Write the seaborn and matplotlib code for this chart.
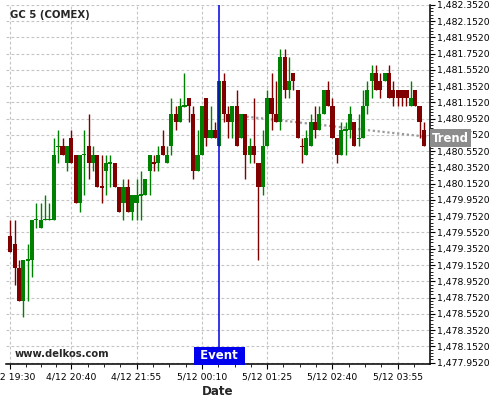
import numpy as np
import pandas as pd
import matplotlib
matplotlib.use("Agg")
import matplotlib.pyplot as plt
import seaborn as sns
from matplotlib.ticker import FixedLocator, FuncFormatter

# 5-minute candles, GC 5 (COMEX)
opens = [1479.51, 1479.41, 1479.11, 1478.71, 1479.20, 1479.21, 1479.70, 1479.61, 1479.70, 1479.70,
         1479.71, 1480.60, 1480.61, 1480.41, 1480.71, 1480.51, 1479.91, 1480.50, 1480.61, 1480.41,
         1480.51, 1480.12, 1480.31, 1480.40, 1480.41, 1480.11, 1479.91, 1480.11, 1479.81, 1479.91,
         1480.00, 1480.01, 1480.31, 1480.42, 1480.41, 1480.61, 1480.41, 1480.61, 1481.01, 1480.91,
         1481.10, 1481.21, 1481.01, 1480.31, 1480.51, 1481.21, 1480.71, 1480.81, 1480.61, 1481.41,
         1481.01, 1480.91, 1481.11, 1480.71, 1481.01, 1480.51, 1480.61, 1480.41, 1480.11, 1480.61,
         1481.21, 1481.01, 1480.91, 1481.71, 1481.31, 1481.51, 1481.31, 1480.62, 1480.51, 1480.61,
         1480.91, 1480.81, 1481.01, 1481.31, 1481.11, 1480.71, 1480.51, 1480.80, 1480.81, 1480.91,
         1480.70, 1480.71, 1481.11, 1481.41, 1481.51, 1481.41, 1481.41, 1481.51, 1481.31, 1481.31,
         1481.31, 1481.31, 1481.11, 1481.31, 1481.11, 1480.81]
highs = [1479.71, 1479.71, 1479.21, 1479.21, 1479.41, 1479.71, 1479.91, 1479.91, 1480.01, 1479.91,
         1480.71, 1480.81, 1480.71, 1480.61, 1480.81, 1480.51, 1480.51, 1480.81, 1481.01, 1480.61,
         1480.51, 1480.51, 1480.51, 1480.51, 1480.41, 1480.11, 1480.21, 1480.21, 1480.01, 1480.21,
         1480.31, 1480.21, 1480.51, 1480.51, 1480.61, 1480.81, 1480.61, 1481.21, 1481.11, 1481.21,
         1481.51, 1481.21, 1481.11, 1480.81, 1481.11, 1481.21, 1481.11, 1480.91, 1481.41, 1481.51,
         1481.11, 1481.11, 1481.31, 1481.01, 1481.01, 1480.71, 1481.21, 1480.41, 1480.81, 1481.31,
         1481.51, 1481.41, 1481.81, 1481.81, 1481.71, 1481.51, 1481.31, 1480.71, 1480.81, 1481.01,
         1481.11, 1481.11, 1481.31, 1481.41, 1481.21, 1480.71, 1480.91, 1480.91, 1481.11, 1480.91,
         1481.01, 1481.31, 1481.41, 1481.61, 1481.61, 1481.51, 1481.51, 1481.61, 1481.41, 1481.31,
         1481.31, 1481.31, 1481.41, 1481.31, 1481.11, 1480.91]
lows = [1479.31, 1478.91, 1478.71, 1478.51, 1478.71, 1479.01, 1479.61, 1479.61, 1479.70, 1479.70,
        1479.71, 1480.41, 1480.51, 1480.31, 1480.41, 1479.91, 1479.81, 1480.01, 1480.21, 1480.31,
        1480.11, 1479.91, 1480.01, 1480.11, 1480.11, 1479.81, 1479.71, 1479.81, 1479.71, 1479.71,
        1479.71, 1480.01, 1480.01, 1480.31, 1480.31, 1480.51, 1480.41, 1480.51, 1480.81, 1480.91,
        1481.10, 1480.91, 1480.21, 1480.31, 1480.51, 1480.61, 1480.71, 1480.71, 1480.61, 1480.91,
        1480.71, 1480.71, 1480.61, 1480.71, 1480.21, 1480.41, 1480.41, 1479.21, 1480.01, 1480.61,
        1480.81, 1480.91, 1480.81, 1481.21, 1481.21, 1481.31, 1480.71, 1480.41, 1480.51, 1480.61,
        1480.71, 1480.81, 1481.01, 1481.11, 1480.71, 1480.41, 1480.51, 1480.51, 1480.71, 1480.61,
        1480.61, 1480.71, 1481.01, 1481.21, 1481.31, 1481.21, 1481.41, 1481.21, 1481.11, 1481.11,
        1481.11, 1481.11, 1481.11, 1481.11, 1480.71, 1480.61]
closes = [1479.31, 1479.11, 1478.71, 1479.21, 1479.22, 1479.71, 1479.72, 1479.71, 1479.72, 1479.72,
          1480.51, 1480.62, 1480.51, 1480.61, 1480.41, 1479.91, 1480.51, 1480.52, 1480.41, 1480.51,
          1480.11, 1480.10, 1480.41, 1480.42, 1480.11, 1479.81, 1480.11, 1479.81, 1480.01, 1480.01,
          1480.02, 1480.21, 1480.51, 1480.40, 1480.51, 1480.51, 1480.51, 1481.01, 1480.91, 1481.11,
          1481.12, 1481.11, 1480.31, 1480.51, 1481.11, 1480.71, 1480.81, 1480.71, 1481.41, 1481.01,
          1480.91, 1481.11, 1480.61, 1481.01, 1480.51, 1480.61, 1480.51, 1480.11, 1480.61, 1481.21,
          1481.01, 1480.91, 1481.71, 1481.31, 1481.41, 1481.41, 1480.71, 1480.60, 1480.71, 1480.91,
          1480.81, 1481.01, 1481.31, 1481.11, 1480.71, 1480.51, 1480.81, 1480.82, 1481.01, 1480.61,
          1480.72, 1481.11, 1481.31, 1481.51, 1481.31, 1481.31, 1481.51, 1481.21, 1481.21, 1481.21,
          1481.21, 1481.21, 1481.21, 1481.11, 1480.91, 1480.61]

tick_pos = [0, 14, 29, 44, 59, 74, 89]
tick_labels = ["4/12 19:30", "4/12 20:40", "4/12 21:55", "5/12 00:10",
               "5/12 01:25", "5/12 02:40", "5/12 03:55"]
event_idx = 48
trend_x = [52, 95.6]
trend_y = [1480.99, 1480.73]

df = pd.DataFrame({"open": opens, "high": highs, "low": lows, "close": closes})
df["idx"] = np.arange(len(df))
df["color"] = np.where(df["close"] >= df["open"], "#008000", "#800000")

sns.set_style("whitegrid")
plt.rcParams["font.family"] = ["DejaVu Sans"]

fig = plt.figure(figsize=(5, 4), dpi=100)
ax = fig.add_axes([5.5 / 500, 1 - 364 / 400, 424.5 / 500, 359.3 / 400])
ax.set_facecolor("white")

# trend line under candles
sns.lineplot(x=trend_x, y=trend_y, ax=ax, color="#9a9a9a", lw=1.6,
             linestyle=(0, (1, 1.2)), zorder=2)

# candles
ax.vlines(df["idx"], df["low"], df["high"], colors=df["color"], lw=1.0, zorder=3)
ax.bar(df["idx"], (df["close"] - df["open"]).abs(),
       bottom=df[["open", "close"]].min(axis=1), width=0.95,
       color=df["color"], edgecolor="none", zorder=4)

ax.axvline(event_idx, color="#0000e0", lw=1.1, zorder=5)

ax.set_xlim(-1.1, 96.4)
ax.set_ylim(1477.935, 1482.353)

# axes cosmetics
ax.yaxis.tick_right()
yt = [1477.952 + 0.2 * k for k in range(23)]
ax.set_yticks(yt)
ax.yaxis.set_major_formatter(FuncFormatter(lambda v, p: f"{v:,.4f}"))
ax.yaxis.set_minor_locator(FixedLocator([1477.952 + 0.04 * k for k in range(111)]))
ax.set_xticks(tick_pos)
ax.set_xticklabels(tick_labels)
minors = []
for a, b in zip(tick_pos[:-1], tick_pos[1:]):
    minors += list(np.linspace(a, b, 5)[1:-1])
minors += [89 + 3.75, 89 + 7.5]
ax.xaxis.set_minor_locator(FixedLocator(minors))
ax.tick_params(axis="both", which="major", labelsize=6.7, colors="black",
               direction="out", length=3.5, width=0.8, pad=1.5)
ax.tick_params(axis="x", which="major", pad=2.5)
ax.tick_params(axis="both", which="minor", direction="out", length=2.5,
               width=0.6, color="black")
ax.tick_params(axis="y", which="both", left=False, right=True)
ax.tick_params(axis="x", which="both", bottom=True, top=False)

ax.grid(True, which="major", color="#c4c4c4", linestyle=(0, (2.5, 2)), lw=0.8)
ax.grid(False, which="minor")
for side in ["left", "top"]:
    ax.spines[side].set_visible(False)
for side in ["bottom", "right"]:
    ax.spines[side].set_visible(True)
    ax.spines[side].set_color("black")
    ax.spines[side].set_linewidth(1.1)

ax.set_xlabel("Date", fontsize=8.6, fontweight="bold", labelpad=2.5)
ax.set_ylabel("")

fig.text(10 / 500, 1 - 15.5 / 400, "GC 5 (COMEX)", fontsize=7.3,
         fontweight="bold", va="center", ha="left")
fig.text(15 / 500, 1 - 354 / 400, "www.delkos.com", fontsize=7.2,
         fontweight="bold", va="center", ha="left")

# event tag
ax.annotate(" Event ", xy=(event_idx, 0), xycoords=("data", "axes fraction"),
            xytext=(0, 6), textcoords="offset points", ha="center", va="center",
            color="white", fontsize=8.5, fontweight="bold", zorder=6,
            bbox=dict(boxstyle="square,pad=0.22", fc="#0000ee", ec="none"))

# trend tag
ax.annotate("Trend", xy=(1.0, trend_y[-1]), xycoords=("axes fraction", "data"),
            xytext=(1.2, -1), textcoords="offset points", ha="left", va="center",
            color="white", fontsize=8.4, fontweight="bold", zorder=10,
            annotation_clip=False,
            bbox=dict(boxstyle="square,pad=0.18", fc="#8c8c8c", ec="none"))

fig.savefig("out.png", dpi=100)
